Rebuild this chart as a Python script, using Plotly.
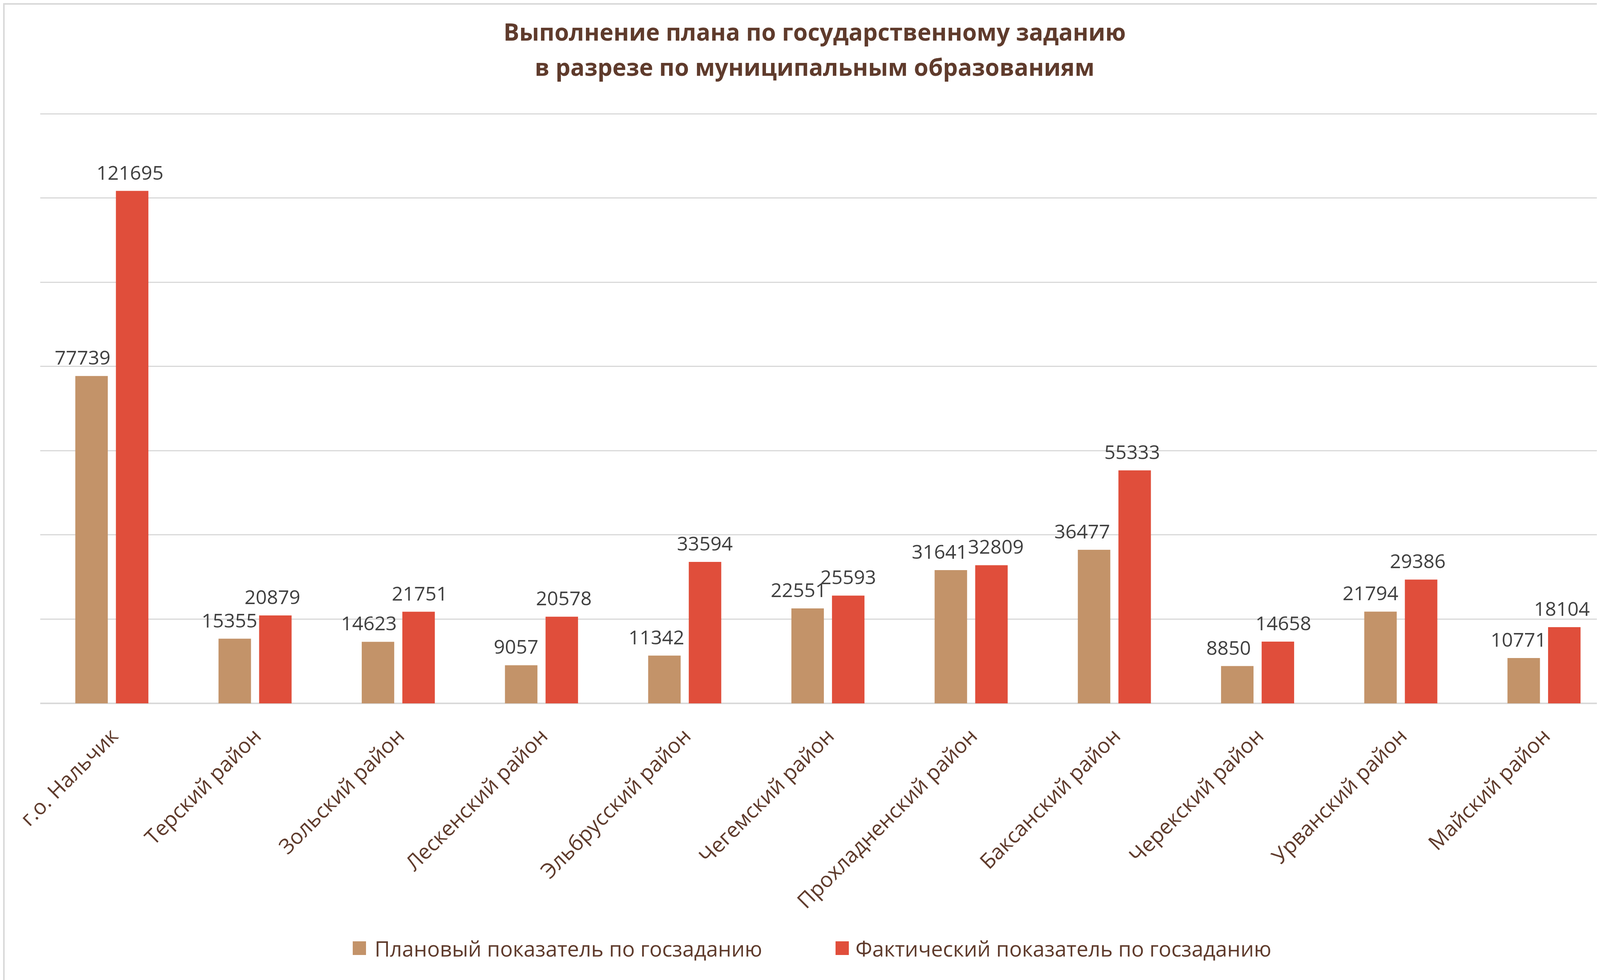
import plotly.graph_objects as go

W, H = 4154, 2508

title_lines = ["Выполнение плана по государственному заданию",
               "в разрезе по муниципальным образованиям"]
categories = ["г.о. Нальчик", "Терский район", "Зольский район", "Лескенский район",
              "Эльбрусский район", "Чегемский район", "Прохладненский район",
              "Баксанский район", "Черекский район", "Урванский район", "Майский район"]
plan_name = "Плановый показатель по госзаданию"
fact_name = "Фактический показатель по госзаданию"
plan_values = [77739, 15355, 14623, 9057, 11342, 22551, 31641, 36477, 8850, 21794, 10771]
fact_values = [121695, 20879, 21751, 20578, 33594, 25593, 32809, 55333, 14658, 29386, 18104]

# horizontal nudges (px) of the value labels, as the source places them
plan_label_dx = [-23, -13, -23, -13, -20, -23, -29, -30, -22, -26, -13]
fact_label_dx = [-5, -7, 3, 5, 0, 0, 11, -6, 14, -9, -6]

FONT = "Open Sans"
BROWN = "#5F3B2C"
LABEL = "#404040"
GRID = "#D9D9D9"
PLAN_C = "#C39369"
FACT_C = "#E04E3B"
BARGAP, BARGROUPGAP = 0.433, 0.2
Y_MAX, Y_PAD = 140000, 300

ML, MR, MB = 95, 26, 716
MT = 283 - 3          # the extra Y_PAD (~3px) keeps the 140000 gridline visible
pw = W - ML - MR
ph = H - MT - MB


def py(px_from_top):
    """paper y for a pixel row measured from the top of the figure"""
    return 1 + (MT - px_from_top) / ph


def pxx(px_from_left):
    return (px_from_left - ML) / pw


fig = go.Figure()
fig.add_trace(go.Bar(name=plan_name, x=categories, y=plan_values,
                     marker=dict(color=PLAN_C, line_width=0), showlegend=False))
fig.add_trace(go.Bar(name=fact_name, x=categories, y=fact_values,
                     marker=dict(color=FACT_C, line_width=0), showlegend=False))

# value labels above the bars
off = (1 - BARGAP) / 4
for i in range(len(categories)):
    for vals, dxs, sgn in ((plan_values, plan_label_dx, -1), (fact_values, fact_label_dx, 1)):
        fig.add_annotation(x=i + sgn * off, y=vals[i], xref="x", yref="y",
                           text=str(vals[i]), showarrow=False,
                           xanchor="center", yanchor="bottom",
                           xshift=dxs[i], yshift=12,
                           font=dict(family=FONT, size=50, color=LABEL))

# title (two lines), centred on the whole figure
for line, yc in zip(title_lines, (73, 163)):
    fig.add_annotation(x=pxx(W / 2), y=py(yc), xref="paper", yref="paper",
                       text="<b>" + line + "</b>", showarrow=False,
                       xanchor="center", yanchor="middle",
                       font=dict(family=FONT, size=60, color=BROWN))

# legend (square swatches + text)
legend_items = [(plan_name, PLAN_C, 895, 949), (fact_name, FACT_C, 2131, 2180)]
for name, color, sx, tx in legend_items:
    fig.add_shape(type="rect", xref="paper", yref="paper",
                  x0=pxx(sx), x1=pxx(sx + 34), y0=py(2436), y1=py(2401),
                  fillcolor=color, line_width=0)
    fig.add_annotation(x=pxx(tx), y=py(2419), xref="paper", yref="paper",
                       text=name, showarrow=False, xanchor="left", yanchor="middle",
                       font=dict(family=FONT, size=54, color=BROWN))

fig.update_layout(
    width=W, height=H,
    margin=dict(l=ML, r=MR, t=MT, b=MB, autoexpand=False),
    paper_bgcolor="white", plot_bgcolor="white",
    barmode="group", bargap=BARGAP, bargroupgap=BARGROUPGAP,
    showlegend=False,
    font=dict(family=FONT, color=BROWN),
)
fig.update_xaxes(tickangle=-45, tickfont=dict(family=FONT, size=54, color=BROWN),
                 showline=False, showgrid=False, ticks="", ticklabelstandoff=40)
fig.update_yaxes(range=[0, Y_MAX + Y_PAD], tickmode="linear", tick0=0, dtick=20000,
                 showticklabels=False, showgrid=True, gridcolor=GRID, gridwidth=3,
                 zeroline=True, zerolinecolor=GRID, zerolinewidth=4, showline=False)

# outer chart border
fig.add_shape(type="rect", xref="paper", yref="paper",
              x0=pxx(2), x1=pxx(W - 2), y0=py(H - 2), y1=py(2),
              line=dict(color=GRID, width=4), fillcolor="rgba(0,0,0,0)", layer="below")

fig.write_html("out.html")
